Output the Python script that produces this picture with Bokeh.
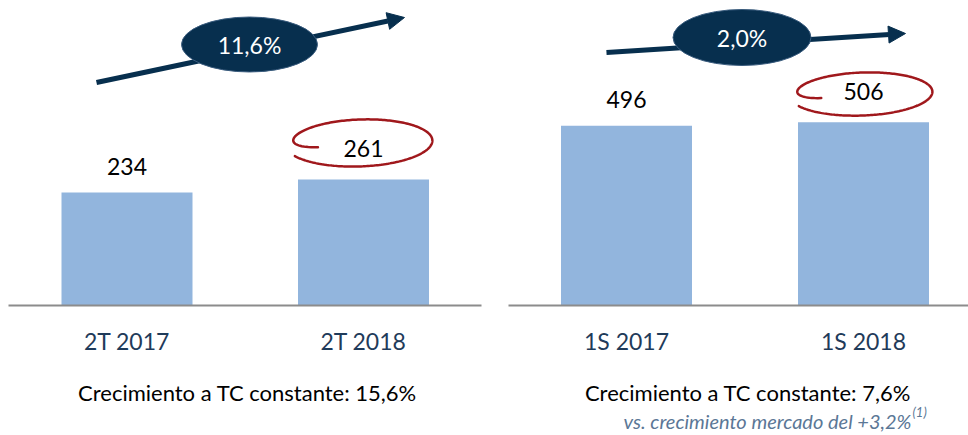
import numpy as np
from bokeh.plotting import figure
from bokeh.layouts import row
from bokeh.models import Range1d, Arrow, NormalHead
from bokeh.core.properties import value
from bokeh.embed import file_html
from bokeh.resources import INLINE

# ---------------- data ----------------
left_categories = ["2T 2017", "2T 2018"]
left_values = [234, 261]
left_growth = "11,6%"
left_note = "Crecimiento a TC constante: 15,6%"

right_categories = ["1S 2017", "1S 2018"]
right_values = [496, 506]
right_growth = "2,0%"
right_note = "Crecimiento a TC constante: 7,6%"
right_subnote = "vs. crecimiento mercado del +3,2%"
right_subnote_ref = "(1)"

highlight_index = 1  # circled value

# ---------------- style ----------------
FONT = value("Lato")
BAR = "#92B5DD"
NAVY = "#072F4E"
NAVY_EDGE = "#3A5C7E"
RED = "#A0181C"
AXIS = "#8C8C8C"
CAT = "#1F3B5A"
SUB = "#5B7796"

TOP = 0          # page y of figure top
H = 435          # figure height
BASE = 305       # page y of baseline

left_geom = dict(x0=0, w=484, kx=236.5, c0=126.5, ky=0.483,
                 base=(8, 481), arrow=((96, 82), (404, 17)),
                 ell=(249, 44, 136, 55), loop=(359.5, 142.1, 70, 22.7),
                 note=(247, 392))
right_geom = dict(x0=484, w=484, kx=237.0, c0=626, ky=0.3623,
                  base=(508, 968), arrow=((606, 52), (905, 33)),
                  ell=(741.5, 37, 138, 56), loop=(861.6, 93.2, 68, 20.8),
                  note=(747.5, 392))

label_lift = [26, 31]


def make_panel(cats, vals, growth, note, g):
    X = lambda px: (px - g["c0"]) / g["kx"]
    Y = lambda py: (BASE - py) / g["ky"]

    p = figure(width=g["w"], height=H, output_backend="svg", toolbar_location=None,
               x_range=Range1d(X(g["x0"]), X(g["x0"] + g["w"])),
               y_range=Range1d(Y(TOP + H), Y(TOP)),
               min_border=0, outline_line_color=None,
               background_fill_color="white", border_fill_color="white")
    p.axis.visible = False
    p.grid.visible = False

    idx = list(range(len(cats)))

    # bars
    p.vbar(x=idx, top=vals, bottom=0, width=131 / g["kx"],
           fill_color=BAR, line_color=None)

    # baseline
    p.segment(x0=[X(g["base"][0])], y0=[0], x1=[X(g["base"][1])], y1=[0],
              line_color=AXIS, line_width=2)

    # value labels
    ly = [v + label_lift[i] / g["ky"] for i, v in enumerate(vals)]
    p.text(x=idx, y=ly, text=[str(v) for v in vals], text_font=FONT,
           text_font_size="23px", text_color="#000000",
           text_align="center", text_baseline="middle")

    # category labels
    p.text(x=idx, y=[Y(340)] * len(cats), text=cats, text_font=FONT,
           text_font_size="23px", text_color=CAT,
           text_align="center", text_baseline="middle")

    # growth arrow
    (ax0, ay0), (ax1, ay1) = g["arrow"]
    arrow = Arrow(x_start=X(ax0), y_start=Y(ay0), x_end=X(ax1), y_end=Y(ay1),
                  line_color=NAVY, line_width=5,
                  end=NormalHead(size=17, fill_color=NAVY, line_color=NAVY),
                  level="underlay")
    p.add_layout(arrow)

    ex, ey, ew, eh = g["ell"]
    p.ellipse(x=[X(ex)], y=[Y(ey)], width=ew / g["kx"], height=eh / g["ky"],
              fill_color=NAVY, line_color=NAVY_EDGE, line_width=1)
    p.text(x=[X(ex)], y=[Y(ey)], text=[growth], text_font=FONT,
           text_font_size="23px", text_color="white",
           text_align="center", text_baseline="middle")

    # hand-drawn red loop around highlighted value
    cx, cy, rx, ry = g["loop"]
    th0, th1 = np.pi + 0.25, -np.pi + 0.5
    th = np.linspace(th0, th1, 240)
    s = (th0 - th) / (th0 - th1)
    sc = 1 - 0.38 * np.exp(-s / 0.03) + 0.06 * s
    dx = rx * sc * np.cos(th)
    dy = -ry * sc * np.sin(th) - 0.03 * dx
    p.line(x=[X(cx + a) for a in dx], y=[Y(cy + b) for b in dy],
           line_color=RED, line_width=2.5, line_cap="round")

    # note
    nx, ny = g["note"]
    p.text(x=[X(nx)], y=[Y(ny)], text=[note], text_font=FONT,
           text_font_size="22px", text_color="#000000",
           text_align="center", text_baseline="middle")
    return p, X, Y


pL, _, _ = make_panel(left_categories, left_values, left_growth, left_note, left_geom)
pR, XR, YR = make_panel(right_categories, right_values, right_growth, right_note, right_geom)

pR.text(x=[XR(911)], y=[YR(420)], text=[right_subnote], text_font=FONT,
        text_font_size="20px", text_font_style="italic", text_color=SUB,
        text_align="right", text_baseline="alphabetic")
pR.text(x=[XR(912)], y=[YR(411)], text=[right_subnote_ref], text_font=FONT,
        text_font_size="13px", text_font_style="italic", text_color=SUB,
        text_align="left", text_baseline="alphabetic")

layout = row(pL, pR, spacing=0)
open("out.html", "w").write(file_html(layout, INLINE))
